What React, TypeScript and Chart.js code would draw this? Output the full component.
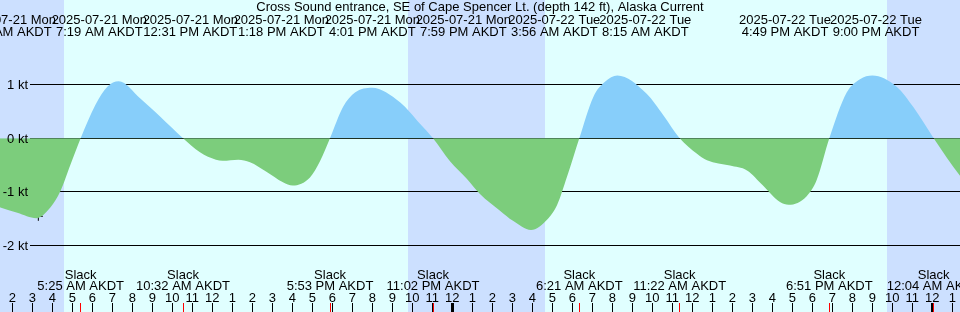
import React, { useEffect, useRef } from 'react';
import { Chart, registerables } from 'chart.js';

Chart.register(...registerables);

// ---------- data ----------
const TITLE = 'Cross Sound entrance, SE of Cape Spencer Lt. (depth 142 ft), Alaska Current';
const UNIT = 'kt';
const ZONE = 'AKDT';

// hours counted from 2025-07-21 00:00 AKDT
const viewStartHour = 1 + 23 / 60;
const viewSpanHours = 48;

// tidal current samples (knots, + = flood, - = ebb)
const curveHours = [
  1.0, 1.4, 2.25, 3.2, 3.9, 4.4, 4.9, 5.4167, 6.15, 6.75, 7.3167, 8.4, 9.4, 10.5333,
  11.383, 12.183, 12.5167, 13.3, 13.883, 14.683, 15.533, 16.0167, 16.883, 17.383, 17.8833,
  18.533, 19.133, 19.9833, 21.383, 22.383, 23.0333,
  23.883, 24.733, 25.383, 26.383, 27.033, 27.9333, 28.733, 29.233, 29.733, 30.35,
  31.05, 31.633, 32.25, 33.717, 34.55, 35.3667,
  36.233, 36.733, 37.883, 38.733, 39.533, 40.383, 40.8167, 41.717, 42.217, 42.85,
  43.717, 44.383, 45.0, 46.217, 47.05, 48.0667, 49.383, 49.8,
];
const curveKnots = [
  -1.25, -1.29, -1.39, -1.49, -1.29, -0.99, -0.5, 0, 0.62, 0.96, 1.06, 0.74, 0.4, 0,
  -0.26, -0.4, -0.42, -0.4, -0.45, -0.62, -0.82, -0.88, -0.73, -0.43, 0,
  0.58, 0.85, 0.94, 0.67, 0.27, 0,
  -0.43, -0.76, -1.04, -1.35, -1.54, -1.71, -1.52, -1.25, -0.72, 0,
  0.77, 1.05, 1.17, 0.83, 0.43, 0,
  -0.29, -0.41, -0.51, -0.6, -0.88, -1.19, -1.24, -1.08, -0.78, 0,
  0.85, 1.1, 1.17, 0.96, 0.58, 0, -0.7, -0.88,
];

// max / min current events (top labels)
const maxMinDates = [
  '2025-07-21 Mon', '2025-07-21 Mon', '2025-07-21 Mon', '2025-07-21 Mon', '2025-07-21 Mon',
  '2025-07-21 Mon', '2025-07-22 Tue', '2025-07-22 Tue', '2025-07-22 Tue', '2025-07-22 Tue',
];
const maxMinTimes = [
  '3:12 AM', '7:19 AM', '12:31 PM', '1:18 PM', '4:01 PM',
  '7:59 PM', '3:56 AM', '8:15 AM', '4:49 PM', '9:00 PM',
];

// slack water events (bottom labels)
const slackDates = [
  '2025-07-21 Mon', '2025-07-21 Mon', '2025-07-21 Mon', '2025-07-21 Mon',
  '2025-07-22 Tue', '2025-07-22 Tue', '2025-07-22 Tue', '2025-07-23 Wed',
];
const slackTimes = [
  '5:25 AM', '10:32 AM', '5:53 PM', '11:02 PM', '6:21 AM', '11:22 AM', '6:51 PM', '12:04 AM',
];

// sun
const sunriseDates = ['2025-07-21 Mon', '2025-07-22 Tue'];
const sunriseTimes = ['4:36 AM', '4:38 AM'];
const sunsetDates = ['2025-07-21 Mon', '2025-07-22 Tue'];
const sunsetTimes = ['9:47 PM', '9:45 PM'];

// "+" mark
const markDate = '2025-07-21 Mon';
const markTime = '3:18 AM';
const markKnots = -1.455;

const gridKnots = [1, 0, -1, -2];
const knotsMin = -3.238;
const knotsMax = 2.575;

// ---------- style ----------
const FONT = '13px "Liberation Sans", Arial, Helvetica, sans-serif';
const DAY = '#e0ffff';
const NIGHT = '#cce0ff';
const FLOOD = '#87cefa';
const EBB = '#7ccd7c';
const LABEL_SLOT = 91;
const LABEL_GAP = 10;

const DAY0 = Date.UTC(2025, 6, 21);
function toHours(date: string, time: string): number {
  const [y, m, d] = date.slice(0, 10).split('-').map(Number);
  const dayOff = (Date.UTC(y, m - 1, d) - DAY0) / 3600000;
  const mt = time.match(/(\d+):(\d+)\s*(AM|PM)/)!;
  let h = Number(mt[1]) % 12;
  if (mt[3] === 'PM') h += 12;
  return dayOff + h + Number(mt[2]) / 60;
}

function layoutLabels(desired: number[]): number[] {
  type C = { idx: number[]; start: number; end: number };
  const clusters: C[] = [];
  const place = (c: C) => {
    const n = c.idx.length;
    const mid = (desired[c.idx[0]] + desired[c.idx[n - 1]]) / 2;
    c.start = mid - (n * LABEL_SLOT) / 2;
    c.end = c.start + n * LABEL_SLOT;
  };
  desired.forEach((_, i) => {
    const c: C = { idx: [i], start: 0, end: 0 };
    place(c);
    clusters.push(c);
    while (clusters.length > 1) {
      const a = clusters[clusters.length - 2];
      const b = clusters[clusters.length - 1];
      if (b.start - a.end < LABEL_GAP) {
        a.idx.push(...b.idx);
        place(a);
        clusters.pop();
      } else break;
    }
  });
  const centers: number[] = [];
  clusters.forEach((c) => c.idx.forEach((i, k) => (centers[i] = c.start + (k + 0.5) * LABEL_SLOT)));
  return centers;
}

const backdrop = {
  id: 'backdrop',
  beforeDatasetsDraw(chart: any) {
    const { ctx, scales } = chart;
    const xs = scales.x;
    const ys = scales.y;
    const W = chart.width;
    const H = chart.height;
    ctx.save();
    ctx.fillStyle = DAY;
    ctx.fillRect(0, 0, W, H);
    const rises = sunriseDates.map((d, i) => toHours(d, sunriseTimes[i]));
    const sets = sunsetDates.map((d, i) => toHours(d, sunsetTimes[i]));
    const nights: [number, number][] = [];
    let prev = xs.min - 1;
    rises.forEach((r, i) => {
      nights.push([prev, r]);
      prev = sets[i];
    });
    nights.push([prev, xs.max + 1]);
    ctx.fillStyle = NIGHT;
    nights.forEach(([a, b]) => {
      const x1 = Math.round(xs.getPixelForValue(a));
      const x2 = Math.round(xs.getPixelForValue(b));
      ctx.fillRect(x1, 0, x2 - x1, H);
    });
    ctx.fillStyle = '#000';
    gridKnots.forEach((v) => {
      const yy = Math.floor(ys.getPixelForValue(v));
      ctx.fillRect(30, yy, W - 30, 1);
    });
    ctx.restore();
  },
};

const annotations = {
  id: 'annotations',
  afterDraw(chart: any) {
    const { ctx, scales } = chart;
    const xs = scales.x;
    const ys = scales.y;
    const W = chart.width;
    ctx.save();
    ctx.font = FONT;
    ctx.fillStyle = '#000';
    ctx.textBaseline = 'alphabetic';

    // y labels
    ctx.textAlign = 'right';
    gridKnots.forEach((v) => {
      const yy = Math.floor(ys.getPixelForValue(v));
      ctx.fillText(`${v} ${UNIT}`, 28, yy + 5);
    });

    // title
    ctx.textAlign = 'center';
    ctx.fillText(TITLE, W / 2, 11);

    // max / min labels
    const desired = maxMinDates.map((d, i) => xs.getPixelForValue(toHours(d, maxMinTimes[i])));
    const centers = layoutLabels(desired);
    centers.forEach((cx, i) => {
      ctx.fillText(maxMinDates[i], cx, 24);
      ctx.fillText(`${maxMinTimes[i]} ${ZONE}`, cx, 36);
    });

    // slack labels
    const slackX = slackDates.map((d, i) => xs.getPixelForValue(toHours(d, slackTimes[i])));
    slackX.forEach((sx, i) => {
      ctx.fillText('Slack', sx, 279);
      ctx.fillText(`${slackTimes[i]} ${ZONE}`, sx, 290);
    });

    // hour ticks
    for (let h = Math.ceil(xs.min); h <= Math.floor(xs.max); h++) {
      const px = xs.getPixelForValue(h);
      const col = Math.floor(px);
      if (h % 24 === 0) ctx.fillRect(col - 1, 303, 3, 9);
      else ctx.fillRect(col, 303, 1, 9);
      ctx.fillText(String(h % 12 || 12), px, 302);
    }
    ctx.fillStyle = '#ff0000';
    slackX.forEach((sx) => ctx.fillRect(Math.floor(sx), 303, 1, 9));
    ctx.restore();
  },
};

export default function App() {
  const ref = useRef<HTMLCanvasElement | null>(null);
  useEffect(() => {
    document.body.style.margin = '0';
    const canvas = ref.current!;
    const chart = new Chart(canvas, {
      type: 'line',
      data: {
        datasets: [
          {
            data: curveHours.map((h, i) => ({ x: h, y: curveKnots[i] })),
            borderColor: 'rgba(0,0,0,0)',
            borderWidth: 0,
            pointRadius: 0,
            cubicInterpolationMode: 'monotone',
            fill: { target: 'origin', above: FLOOD, below: EBB },
          },
          {
            data: [{ x: toHours(markDate, markTime), y: markKnots }],
            showLine: false,
            pointStyle: 'cross',
            pointRadius: 4.5,
            borderColor: '#000',
            borderWidth: 1,
            fill: false,
          },
        ],
      } as any,
      options: {
        animation: false,
        responsive: false,
        devicePixelRatio: 1,
        events: [],
        layout: { padding: 0, autoPadding: false },
        scales: {
          x: { type: 'linear', min: viewStartHour, max: viewStartHour + viewSpanHours, display: false },
          y: { type: 'linear', min: knotsMin, max: knotsMax, display: false },
        },
        plugins: {
          legend: { display: false },
          tooltip: { enabled: false },
          title: { display: false },
        },
      } as any,
      plugins: [backdrop, annotations],
    });
    return () => chart.destroy();
  }, []);
  return (
    <div style={{ width: 960, height: 312 }}>
      <canvas ref={ref} width={960} height={312} style={{ display: 'block' }} />
    </div>
  );
}
